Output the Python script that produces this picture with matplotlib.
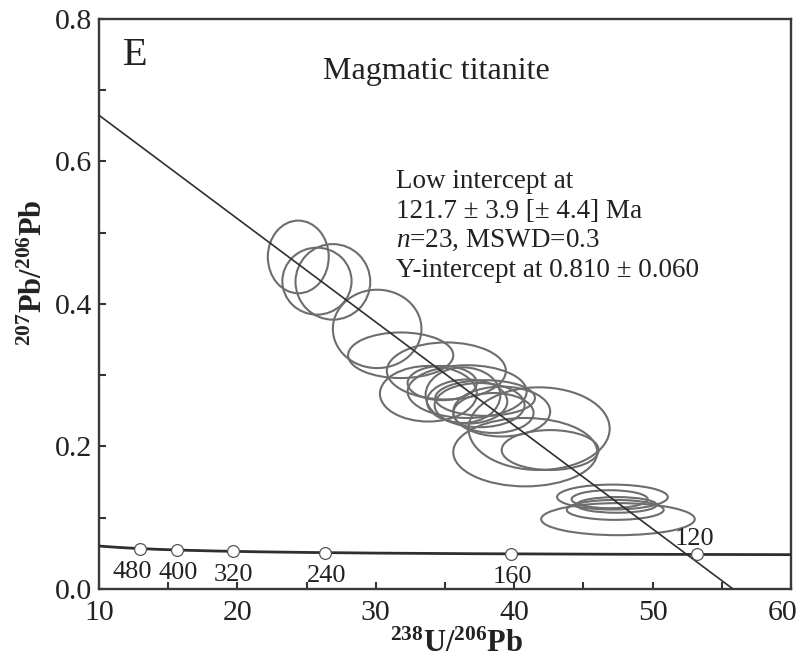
import numpy as np
import matplotlib
matplotlib.use("Agg")
import matplotlib.pyplot as plt
from matplotlib.patches import Ellipse
from matplotlib.transforms import ScaledTranslation

plt.rcParams['font.family'] = 'Liberation Serif'
plt.rcParams['mathtext.fontset'] = 'custom'
plt.rcParams['mathtext.rm'] = 'Liberation Serif'
plt.rcParams['mathtext.it'] = 'Liberation Serif:italic'
plt.rcParams['mathtext.bf'] = 'Liberation Serif:bold'

# decay constants (1/yr)
L238 = 1.55125e-10
L235 = 9.8485e-10
U_RATIO = 137.88

# spot ellipses: centre 238U/206Pb, 207Pb/206Pb and half-axes (2 sigma)
ell_x = [24.4, 25.75, 26.9, 30.1, 31.8, 35.1, 33.8, 36.6, 36.6, 39.1, 41.8, 40.8,
         42.6, 34.8, 36.3, 37.5, 38.5, 37.9, 47.1, 46.9, 47.3, 47.5, 47.4]
ell_y = [0.466, 0.432, 0.431, 0.365, 0.328, 0.306, 0.274, 0.277, 0.263, 0.249, 0.225, 0.192,
         0.195, 0.289, 0.272, 0.258, 0.247, 0.268, 0.129, 0.126, 0.111, 0.098, 0.118]
ell_sx = [2.2, 2.5, 2.7, 3.2, 3.8, 4.3, 3.5, 4.3, 2.9, 3.5, 5.1, 5.2,
          3.5, 2.5, 2.7, 3.25, 2.9, 3.6, 4.0, 2.75, 3.5, 5.55, 2.9]
ell_sy = [0.051, 0.047, 0.053, 0.055, 0.032, 0.040, 0.039, 0.037, 0.031, 0.035, 0.058, 0.048,
          0.028, 0.024, 0.039, 0.031, 0.028, 0.025, 0.0175, 0.0126, 0.014, 0.0225, 0.011]

# concordia age marks (Ma)
ages = [480, 400, 320, 240, 160, 120]

# regression result
lower_age = 121.7   # Ma
y_intercept = 0.810


def tw_point(t_ma):
    t = np.asarray(t_ma, dtype=float) * 1e6
    e238 = np.exp(L238 * t) - 1
    e235 = np.exp(L235 * t) - 1
    return 1 / e238, e235 / e238 / U_RATIO


fig = plt.figure(figsize=(8.04, 6.58), dpi=100)
ax = fig.add_axes([0.1231, 0.1049, 0.8607, 0.8663])

# data ellipses
for x, y, sx, sy in zip(ell_x, ell_y, ell_sx, ell_sy):
    ax.add_patch(Ellipse((x, y), 2 * sx, 2 * sy, fill=False,
                         edgecolor='#6d6d6d', linewidth=1.5, zorder=2))

# concordia curve
t_curve = np.linspace(100, 700, 600)
cx, cy = tw_point(t_curve)
ax.plot(cx, cy, color='#2f2f2f', linewidth=2.0, zorder=3)

# discordia through the y-intercept and the lower intercept
lx, ly = tw_point(lower_age)
dx = np.array([0.0, 70.0])
dy = y_intercept + (ly - y_intercept) / lx * dx
ax.plot(dx, dy, color='#2f2f2f', linewidth=1.2, zorder=4)

# age marks
mx, my = tw_point(ages)
ax.plot(mx, my, 'o', markersize=8.5, markerfacecolor='white',
        markeredgecolor='#555555', markeredgewidth=0.9, zorder=5)
for a, x, y in zip(ages, mx, my):
    if a == 120:
        off = (-2, 3)
        va = 'bottom'
    elif a == 480:
        off = (-5, -9)
        va = 'top'
    else:
        off = (1, -9)
        va = 'top'
    ax.annotate(str(a), (x, y), xytext=off, textcoords='offset points',
                ha='center', va=va, fontsize=19, color='#222222', zorder=6)

ax.set_xlim(10, 60)
ax.set_ylim(0, 0.8)
ax.set_xticks(np.arange(10, 61, 10))
ax.set_xticks(np.arange(15, 60, 10), minor=True)
ax.set_yticks([0.0, 0.2, 0.4, 0.6, 0.8])
ax.set_yticks([0.1, 0.3, 0.5, 0.7], minor=True)
ax.set_yticklabels(['0.0', '0.2', '0.4', '0.6', '0.8'])
ax.tick_params(which='both', direction='in', width=1.5, length=5,
               labelsize=21.5, colors='#333333', labelcolor='#222222')
ax.tick_params(axis='x', pad=8)
ax.tick_params(axis='y', pad=5)
for sp in ax.spines.values():
    sp.set_linewidth(1.7)
    sp.set_color('#3a3a3a')

# pull the last x tick label in so it stays on the canvas
last = ax.xaxis.get_major_ticks()[-1].label1
last.set_transform(last.get_transform() + ScaledTranslation(-8 / 100, 0, fig.dpi_scale_trans))

ax.set_xlabel(r'$\mathbf{^{238}U/^{206}Pb}$', fontsize=22, color='#222222')
ax.xaxis.set_label_coords(0.517, -0.072)
ax.set_ylabel(r'$\mathbf{^{207}Pb/^{206}Pb}$', fontsize=22, color='#222222')
ax.yaxis.set_label_coords(-0.072, 0.555)

ax.text(0.035, 0.919, 'E', transform=ax.transAxes, fontsize=29,
        va='baseline', color='#222222')
ax.text(0.488, 0.895, 'Magmatic titanite', transform=ax.transAxes,
        fontsize=23, ha='center', va='baseline', color='#222222')

info = ['Low intercept at',
        '121.7 ± 3.9 [± 4.4] Ma',
        r'$\mathit{n}$=23, MSWD=0.3',
        'Y-intercept at 0.810 ± 0.060']
info_y = [0.7035, 0.651, 0.600, 0.547]
for s, yy in zip(info, info_y):
    ax.text(0.429, yy, s, transform=ax.transAxes, fontsize=19.5,
            va='baseline', color='#222222')

fig.savefig('out.png', dpi=100)
